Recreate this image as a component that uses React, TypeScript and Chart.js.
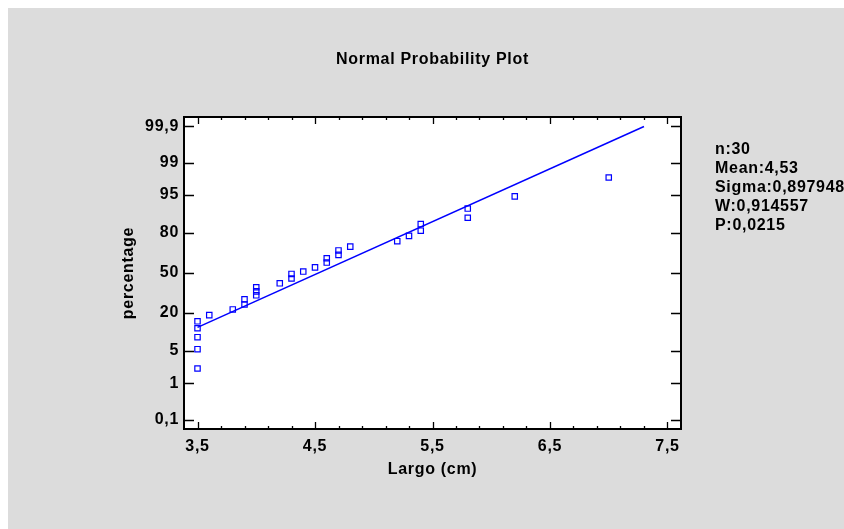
import React, { useEffect, useRef } from 'react';
import { Chart, registerables } from 'chart.js';

Chart.register(...registerables);

// ---- data ----
const largo = [3.5, 3.5, 3.5, 3.5, 3.5, 3.6, 3.8, 3.9, 3.9, 4.0, 4.0, 4.0, 4.2, 4.3, 4.3, 4.4, 4.5, 4.6, 4.6, 4.7, 4.7, 4.8, 5.2, 5.3, 5.4, 5.4, 5.8, 5.8, 6.2, 7.0];
const percentage = [2.2, 5.4, 8.8, 12.2, 15.4, 18.7, 22.1, 25.3, 29.0, 31.9, 34.9, 38.2, 41.4, 45.4, 49.2, 51.2, 54.7, 58.7, 62.2, 64.9, 68.3, 71.1, 74.9, 78.3, 81.4, 84.9, 87.8, 91.3, 94.7, 97.8];
const fitLargo = [3.5, 7.3];
const fitPercentage = [12.6, 99.9];
const yTickPercent = [0.1, 1, 5, 20, 50, 80, 95, 99, 99.9];
const yTickLabels = ['0,1', '1', '5', '20', '50', '80', '95', '99', '99,9'];
const xTickValues = [3.5, 4.5, 5.5, 6.5, 7.5];
const xTickLabels = ['3,5', '4,5', '5,5', '6,5', '7,5'];
const statsLines = ['n:30', 'Mean:4,53', 'Sigma:0,897948', 'W:0,914557', 'P:0,0215'];
const titleText = 'Normal Probability Plot';
const xTitle = 'Largo (cm)';
const yTitle = 'percentage';

const FONT = '"Liberation Sans", Arial, sans-serif';
const BLUE = '#0000ff';
const GRAY = '#dcdcdc';

// inverse normal CDF (probability-scale transform)
function probit(p: number): number {
  const a = [-3.969683028665376e1, 2.209460984245205e2, -2.759285104469687e2, 1.38357751867269e2, -3.066479806614716e1, 2.506628277459239];
  const b = [-5.447609879822406e1, 1.615858368580409e2, -1.556989798598866e2, 6.680131188771972e1, -1.328068155288572e1];
  const c = [-7.784894002430293e-3, -3.223964580411365e-1, -2.400758277161838, -2.549732539343734, 4.374664141464968, 2.938163982698783];
  const d = [7.784695709041462e-3, 3.224671290700398e-1, 2.445134137142996, 3.754408661907416];
  const pl = 0.02425;
  if (p < pl) {
    const q = Math.sqrt(-2 * Math.log(p));
    return (((((c[0] * q + c[1]) * q + c[2]) * q + c[3]) * q + c[4]) * q + c[5]) / ((((d[0] * q + d[1]) * q + d[2]) * q + d[3]) * q + 1);
  }
  if (p > 1 - pl) {
    const q = Math.sqrt(-2 * Math.log(1 - p));
    return -(((((c[0] * q + c[1]) * q + c[2]) * q + c[3]) * q + c[4]) * q + c[5]) / ((((d[0] * q + d[1]) * q + d[2]) * q + d[3]) * q + 1);
  }
  const q = p - 0.5;
  const r = q * q;
  return ((((((a[0] * r + a[1]) * r + a[2]) * r + a[3]) * r + a[4]) * r + a[5]) * q) / (((((b[0] * r + b[1]) * r + b[2]) * r + b[3]) * r + b[4]) * r + 1);
}

const framePlugin = {
  id: 'npframe',
  beforeDraw(chart: any) {
    const { ctx, chartArea: a, width, height } = chart;
    ctx.save();
    ctx.fillStyle = GRAY;
    ctx.fillRect(0, 0, width, height);
    ctx.fillStyle = '#ffffff';
    ctx.fillRect(a.left, a.top, a.right - a.left, a.bottom - a.top);
    ctx.restore();
    (ctx as any).letterSpacing = '0.7px';
  },
  afterDraw(chart: any) {
    const { ctx, chartArea: a } = chart;
    const xs = chart.scales.x;
    const ys = chart.scales.y;
    ctx.save();
    ctx.strokeStyle = '#000000';
    ctx.lineWidth = 1.3;
    ctx.beginPath();
    for (let i = 0; i <= 20; i++) {
      const v = xTickValues[0] + i * 0.2;
      const px = Math.round(xs.getPixelForValue(v)) + 0.5;
      const len = i % 5 === 0 ? 7 : 3;
      ctx.moveTo(px, a.bottom);
      ctx.lineTo(px, a.bottom - len);
      ctx.moveTo(px, a.top);
      ctx.lineTo(px, a.top + len);
    }
    for (const p of yTickPercent) {
      const py = Math.round(ys.getPixelForValue(probit(p / 100))) + 0.5;
      ctx.moveTo(a.left, py);
      ctx.lineTo(a.left + 10, py);
      ctx.moveTo(a.right, py);
      ctx.lineTo(a.right - 10, py);
    }
    ctx.stroke();
    ctx.lineWidth = 2;
    ctx.strokeRect(a.left, a.top, a.right - a.left, a.bottom - a.top);

    ctx.fillStyle = '#000000';
    ctx.font = `bold 16px ${FONT}`;
    ctx.textAlign = 'left';
    ctx.textBaseline = 'middle';
    statsLines.forEach((s, i) => {
      ctx.fillText(s, a.right + 34, a.top + 32.2 + i * 19.1);
    });
    ctx.restore();
  },
};

export default function App() {
  const ref = useRef<HTMLCanvasElement | null>(null);
  useEffect(() => {
    if (!ref.current) return;
    const points = largo.map((v, i) => ({ x: v, y: probit(percentage[i] / 100) }));
    const fit = fitLargo.map((v, i) => ({ x: v, y: probit(fitPercentage[i] / 100) }));
    const chart = new Chart(ref.current, {
      type: 'scatter',
      data: {
        datasets: [
          {
            data: points,
            pointStyle: 'rect',
            pointRadius: 3.8,
            pointBorderWidth: 1.2,
            borderColor: BLUE,
            backgroundColor: 'rgba(0,0,0,0)',
            showLine: false,
          },
          {
            data: fit,
            showLine: true,
            pointRadius: 0,
            borderColor: BLUE,
            borderWidth: 1.5,
            backgroundColor: BLUE,
          },
        ],
      } as any,
      options: {
        responsive: false,
        animation: false,
        devicePixelRatio: 1,
        layout: { padding: { left: 0, right: 163, top: 0, bottom: 0 } },
        plugins: {
          legend: { display: false },
          tooltip: { enabled: false },
          title: {
            display: true,
            text: titleText,
            fullSize: false,
            color: '#000000',
            font: { family: FONT, size: 16, weight: 'bold' },
            padding: { top: 41.5, bottom: 48.3 },
          },
        },
        scales: {
          x: {
            type: 'linear',
            min: 3.385,
            max: 7.615,
            bounds: 'data',
            grid: { display: false, drawTicks: false },
            border: { display: false },
            afterBuildTicks: (s: any) => {
              s.ticks = xTickValues.map((v) => ({ value: v }));
            },
            afterFit: (s: any) => {
              s.height = 100;
            },
            ticks: {
              autoSkip: false,
              maxRotation: 0,
              padding: 7.5,
              color: '#000000',
              font: { family: FONT, size: 16, weight: 'bold' },
              callback: (_v: any, i: number) => xTickLabels[i],
            },
            title: {
              display: true,
              text: xTitle,
              color: '#000000',
              font: { family: FONT, size: 16, weight: 'bold' },
              padding: { top: 0, bottom: 50 },
            },
          },
          y: {
            type: 'linear',
            min: -3.29,
            max: 3.29,
            bounds: 'data',
            grid: { display: false, drawTicks: false },
            border: { display: false },
            afterBuildTicks: (s: any) => {
              s.ticks = yTickPercent.map((p) => ({ value: probit(p / 100) }));
            },
            afterFit: (s: any) => {
              s.width = 176;
            },
            ticks: {
              autoSkip: false,
              padding: 5,
              color: '#000000',
              font: { family: FONT, size: 16, weight: 'bold' },
              callback: (_v: any, i: number) => yTickLabels[i],
            },
            title: {
              display: true,
              text: yTitle,
              color: '#000000',
              font: { family: FONT, size: 16, weight: 'bold' },
              padding: { top: 110.5, bottom: 0 },
            },
          },
        },
      } as any,
      plugins: [framePlugin],
    });
    return () => chart.destroy();
  }, []);
  return (
    <canvas
      ref={ref}
      width={836}
      height={521}
      style={{ position: 'fixed', left: 8, top: 8, width: 836, height: 521, display: 'block' }}
    />
  );
}
